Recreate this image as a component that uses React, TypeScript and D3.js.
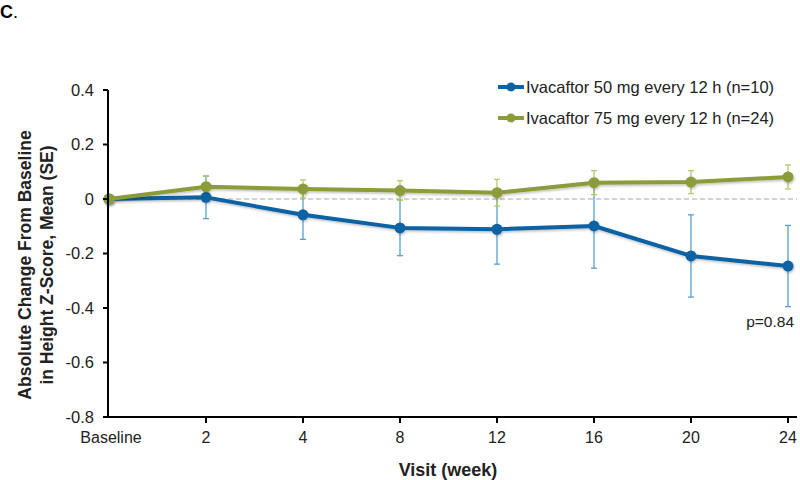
import React from "react";
import * as d3 from "d3";

const categories = ["Baseline", "2", "4", "8", "12", "16", "20", "24"];
const blueMean = [0, 0.006, -0.058, -0.106, -0.111, -0.099, -0.209, -0.246];
const blueSE = [0, 0.078, 0.09, 0.102, 0.128, 0.155, 0.151, 0.149];
const greenMean = [0, 0.045, 0.037, 0.031, 0.023, 0.06, 0.062, 0.081];
const greenSE = [0, 0.04, 0.033, 0.036, 0.049, 0.044, 0.042, 0.044];
const yTicks = [0.4, 0.2, 0, -0.2, -0.4, -0.6, -0.8];
const seriesNames = [
  "Ivacaftor 50 mg every 12 h (n=10)",
  "Ivacaftor 75 mg every 12 h (n=24)",
];

const BLUE = "#0b62a4";
const BLUE_ERR = "#5b9fd0";
const GREEN = "#8c9c3a";
const GREEN_ERR = "#b4c96c";
const FONT = "'Liberation Sans', Arial, sans-serif";

export default function App() {
  const W = 800;
  const H = 480;
  const x = d3.scalePoint<string>().domain(categories).range([109, 788]);
  const y = d3.scaleLinear().domain([-0.8, 0.4]).range([417, 90]);
  const axisX = 108;
  const axisRight = 797;

  const line = d3
    .line<number>()
    .x((_, i) => x(categories[i]) as number)
    .y((d) => y(d));

  const series = [
    { mean: blueMean, se: blueSE, color: BLUE, err: BLUE_ERR },
    { mean: greenMean, se: greenSE, color: GREEN, err: GREEN_ERR },
  ];

  return (
    <svg
      width={W}
      height={H}
      style={{ position: "absolute", left: 0, top: 0 }}
      fontFamily={FONT}
    >
      <defs>
        <filter id="sh" x="-10%" y="-10%" width="120%" height="130%">
          <feDropShadow dx="1" dy="1.5" stdDeviation="1.2" floodColor="#000" floodOpacity="0.25" />
        </filter>
      </defs>
      <rect width={W} height={H} fill="#fff" />
      <text x={0} y={18} fontSize={18} fontWeight="bold">
        C<tspan fontWeight="normal">.</tspan>
      </text>

      {/* zero dashed line */}
      <line
        x1={axisX}
        x2={axisRight}
        y1={y(0)}
        y2={y(0)}
        stroke="#a6a6a6"
        strokeWidth={1.2}
        strokeDasharray="5,3"
      />

      {/* error bars */}
      {series.map((s, si) =>
        s.mean.map((m, i) => {
          if (s.se[i] === 0) return null;
          const cx = x(categories[i]) as number;
          const y1 = y(m + s.se[i]);
          const y2 = y(m - s.se[i]);
          return (
            <g key={`e${si}-${i}`} stroke={s.err} strokeWidth={1.3}>
              <line x1={cx} x2={cx} y1={y1} y2={y2} />
              <line x1={cx - 3} x2={cx + 3} y1={y1} y2={y1} />
              <line x1={cx - 3} x2={cx + 3} y1={y2} y2={y2} />
            </g>
          );
        })
      )}

      {/* lines and markers */}
      {series.map((s, si) => (
        <g key={`s${si}`} filter="url(#sh)">
          <path d={line(s.mean) || ""} fill="none" stroke={s.color} strokeWidth={4} strokeLinejoin="round" />
          {s.mean.map((m, i) => (
            <circle key={i} cx={x(categories[i]) as number} cy={y(m)} r={5.5} fill={s.color} />
          ))}
        </g>
      ))}

      {/* y axis */}
      <line x1={axisX} x2={axisX} y1={y(0.4)} y2={y(-0.8) + 1} stroke="#000" strokeWidth={2} />
      {yTicks.map((t) => (
        <g key={t}>
          <line x1={axisX - 5} x2={axisX} y1={y(t)} y2={y(t)} stroke="#000" strokeWidth={2} />
          <text x={axisX - 14} y={y(t)} dy="0.35em" textAnchor="end" fontSize={16.5} fill="#222">
            {t === 0 ? "0" : t.toFixed(1)}
          </text>
        </g>
      ))}

      {/* x axis */}
      <line x1={axisX - 5} x2={axisRight} y1={y(-0.8)} y2={y(-0.8)} stroke="#000" strokeWidth={2} />
      {categories.map((c, i) => {
        const cx = x(c) as number;
        return (
          <g key={c}>
            {i > 0 && (
              <line x1={cx} x2={cx} y1={y(-0.8)} y2={y(-0.8) + 6} stroke="#000" strokeWidth={2} />
            )}
            <text x={i === 0 ? cx + 2 : cx} y={437} dy="0.35em" textAnchor="middle" fontSize={16} fill="#222">
              {c}
            </text>
          </g>
        );
      })}

      {/* axis titles */}
      <text x={448} y={470} dy="0.35em" textAnchor="middle" fontSize={18} fontWeight="bold" fill="#222">
        Visit (week)
      </text>
      <g transform="translate(0, 265) rotate(-90)">
        <text x={0} y={31} textAnchor="middle" fontSize={17.5} fontWeight="bold" fill="#222">
          Absolute Change From Baseline
        </text>
        <text x={0} y={53} textAnchor="middle" fontSize={17.5} fontWeight="bold" fill="#222">
          in Height Z-Score, Mean (SE)
        </text>
      </g>

      {/* legend */}
      {seriesNames.map((n, i) => {
        const ly = 87 + i * 31;
        const col = i === 0 ? BLUE : GREEN;
        return (
          <g key={n}>
            <line x1={498} x2={524} y1={ly} y2={ly} stroke={col} strokeWidth={4} />
            <circle cx={511} cy={ly} r={4.5} fill={col} />
            <text x={526} y={ly} dy="0.35em" fontSize={16.5} fill="#222">
              {n}
            </text>
          </g>
        );
      })}

      <text x={794} y={322} dy="0.35em" textAnchor="end" fontSize={15.5} fill="#222">
        p=0.84
      </text>
    </svg>
  );
}
